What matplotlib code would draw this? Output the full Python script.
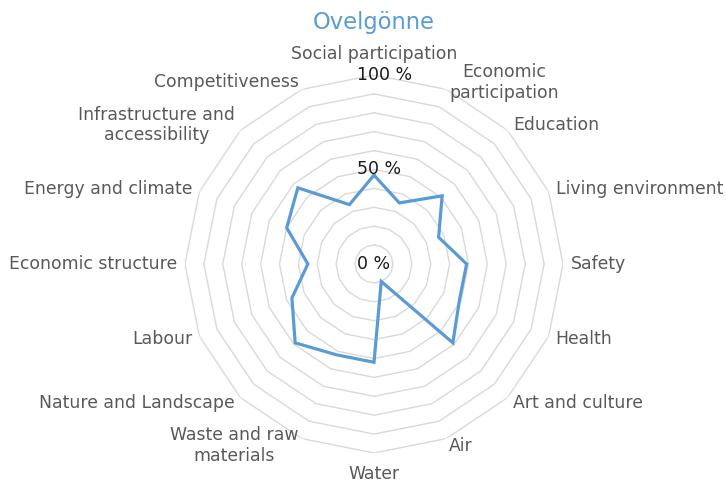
import numpy as np
import matplotlib
matplotlib.use("Agg")
import matplotlib.pyplot as plt

categories = [
    "Social participation", "Economic\nparticipation", "Education",
    "Living environment", "Safety", "Health", "Art and culture", "Air",
    "Water", "Waste and raw\nmaterials", "Nature and Landscape", "Labour",
    "Economic structure", "Energy and climate",
    "Infrastructure and\naccessibility", "Competitiveness",
]
scores = [47, 35, 51, 37, 49, 49, 59, 10, 52, 52, 59, 47, 35, 50, 57, 34]
ring_levels = [10, 20, 30, 40, 50, 60, 70, 80, 90, 100]
axis_labels = {0: "0 %", 50: "50 %", 100: "100 %"}

line_color = "#5b9bd5"
grid_color = "#d9d9d9"
text_color = "#595959"

plt.rcParams["font.family"] = "DejaVu Sans"

fig = plt.figure(figsize=(7.26, 4.82), dpi=100)
ax = fig.add_axes([0.2548, 0.0602, 0.5207, 0.7842], projection="polar")
ax.set_theta_zero_location("N")
ax.set_theta_direction(-1)
ax.set_ylim(0, 100)
ax.set_xticks([])
ax.set_yticks([])
ax.grid(False)
ax.spines["polar"].set_visible(False)
ax.patch.set_alpha(0)

n = len(categories)
theta = np.arange(n) * 2 * np.pi / n
theta_closed = np.append(theta, theta[0])

# concentric polygon rings, no spokes
for lvl in ring_levels:
    ax.plot(theta_closed, [lvl] * (n + 1), color=grid_color, lw=1.0, zorder=1)

vals = np.append(scores, scores[0])
ax.plot(theta_closed, vals, color=line_color, lw=2.3, zorder=3,
        solid_joinstyle="miter")

for lvl, txt in axis_labels.items():
    ax.annotate(txt, xy=(0, lvl), xytext=(-17, 0), textcoords="offset pixels",
                ha="left", va="center", fontsize=12.5, color="#1a1a1a", zorder=4)

for ang, name in zip(theta, categories):
    deg = np.degrees(ang)
    if np.isclose(deg, 0) or np.isclose(deg, 180):
        r, ha = 111, "center"
    elif deg < 180:
        r, ha = 104, "left"
    else:
        r, ha = 104, "right"
    ax.text(ang, r, name, ha=ha, va="center", multialignment="center",
            fontsize=12.4, color=text_color, linespacing=1.2)

fig.text(0.515, 0.953, "Ovelgönne", ha="center", va="center",
         fontsize=16.3, color=line_color)

fig.savefig("out.png", dpi=100)
